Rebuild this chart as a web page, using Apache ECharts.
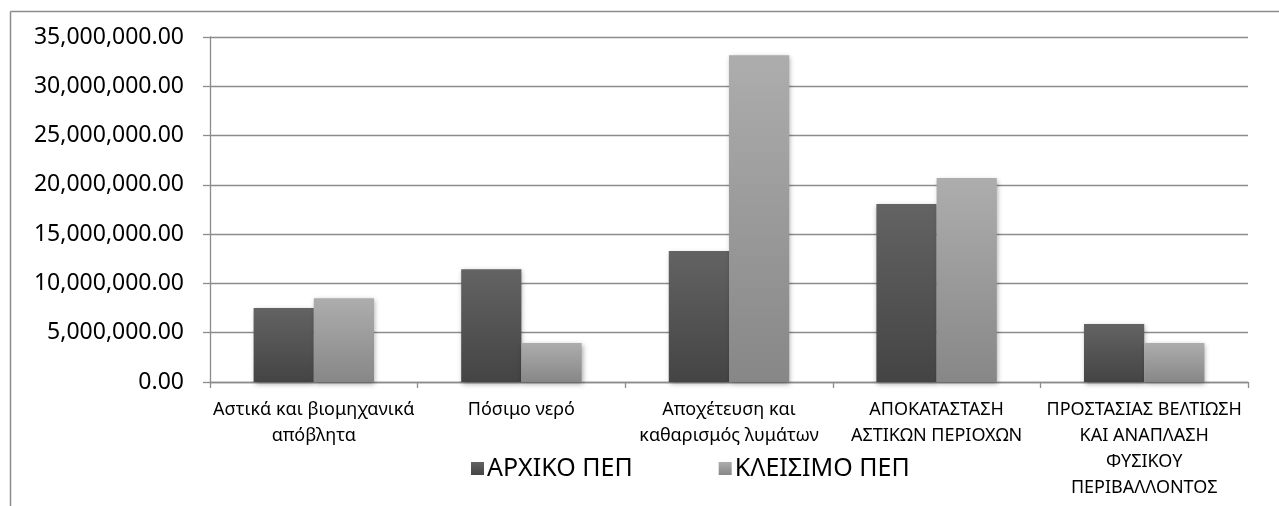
<!DOCTYPE html>
<html>
<head>
<meta charset="utf-8">
<script src="https://cdn.jsdelivr.net/npm/echarts@6/dist/echarts.min.js"></script>
<style>
html,body{margin:0;padding:0;background:#fff;}
#chart{width:1279px;height:506px;}
</style>
</head>
<body>
<div id="chart"></div>
<script>
var categories = [
  "Αστικά και βιομηχανικά\nαπόβλητα",
  "Πόσιμο νερό",
  "Αποχέτευση και\nκαθαρισμός λυμάτων",
  "ΑΠΟΚΑΤΑΣΤΑΣΗ\nΑΣΤΙΚΩΝ ΠΕΡΙΟΧΩΝ",
  "ΠΡΟΣΤΑΣΙΑΣ ΒΕΛΤΙΩΣΗ\nΚΑΙ ΑΝΑΠΛΑΣΗ\nΦΥΣΙΚΟΥ\nΠΕΡΙΒΑΛΛΟΝΤΟΣ"
];
var seriesNames = ["ΑΡΧΙΚΟ ΠΕΠ", "ΚΛΕΙΣΙΜΟ ΠΕΠ"];
var arxiko = [7500000, 11450000, 13300000, 18050000, 5880000];
var kleisimo = [8500000, 3950000, 33150000, 20700000, 3950000];

var chart = echarts.init(document.getElementById('chart'), null, {renderer:'canvas'});
function grad(top, bottom){
  return new echarts.graphic.LinearGradient(0,0,0,1,[{offset:0,color:top},{offset:1,color:bottom}]);
}
var font = '"Noto Sans", "Open Sans", sans-serif';
var option = {
  animation:false,
  backgroundColor:'#fff',
  graphic:[
    {type:'line', shape:{x1:10.5,y1:11.5,x2:1279,y2:11.5}, style:{stroke:'#8c8c8c', lineWidth:1.5}, silent:true},
    {type:'line', shape:{x1:10.5,y1:11.5,x2:10.5,y2:506}, style:{stroke:'#8c8c8c', lineWidth:1.5}, silent:true}
  ],
  grid:{left:210, right:31, top:37, bottom:124, containLabel:false},
  legend:{
    left:466, top:451,
    itemWidth:13, itemHeight:13, itemGap:86,
    icon:'rect',
    textStyle:{fontFamily:font, fontSize:25, color:'#000', padding:[0,0,0,-2]},
    data:seriesNames
  },
  xAxis:{
    type:'category',
    data:categories,
    axisLine:{lineStyle:{color:'#8c8c8c', width:1.3}},
    axisTick:{show:true, length:6, lineStyle:{color:'#8c8c8c', width:1.3}},
    axisLabel:{interval:0, margin:15, fontFamily:font, fontSize:18, lineHeight:26, color:'#000', align:'center'}
  },
  yAxis:{
    type:'value',
    min:0, max:35000000, interval:5000000,
    axisLine:{show:true, lineStyle:{color:'#8c8c8c', width:1.3}},
    axisTick:{show:true, length:7, lineStyle:{color:'#8c8c8c', width:1.3}},
    splitLine:{lineStyle:{color:'#8c8c8c', width:1.3}},
    axisLabel:{margin:26, fontFamily:font, fontSize:23, color:'#000',
      formatter:function(v){return v.toLocaleString('en-US',{minimumFractionDigits:2, maximumFractionDigits:2});}}
  },
  series:[
    {name:seriesNames[0], type:'bar', data:arxiko, barGap:'0%', barCategoryGap:'42%',
     itemStyle:{color:grad('#636363','#444444'), shadowBlur:5, shadowColor:'rgba(0,0,0,0.35)', shadowOffsetX:1, shadowOffsetY:2}},
    {name:seriesNames[1], type:'bar', data:kleisimo, barGap:'0%', barCategoryGap:'42%',
     itemStyle:{color:grad('#adadad','#878787'), shadowBlur:5, shadowColor:'rgba(0,0,0,0.35)', shadowOffsetX:1, shadowOffsetY:2}}
  ]
};
chart.setOption(option);
</script>
</body>
</html>
